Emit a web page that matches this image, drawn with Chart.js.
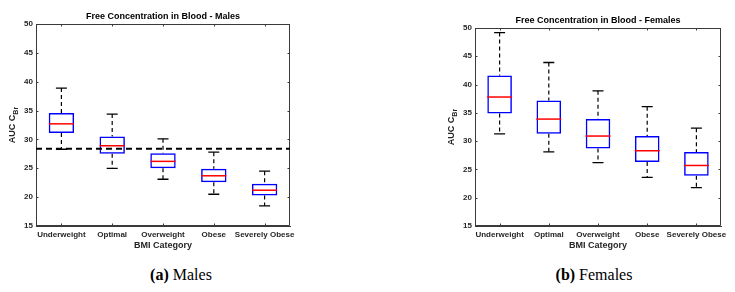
<!DOCTYPE html>
<html>
<head>
<meta charset="utf-8">
<script src="https://cdn.jsdelivr.net/npm/chart.js@4.4.1/dist/chart.umd.min.js"></script>
<style>
  body { margin: 0; background: #fff; width: 735px; height: 292px; position: relative; overflow: hidden; }
  .pane { position: absolute; top: 0; height: 260px; }
  .cap { position: absolute; top: 266px; font-family: "Liberation Serif", "Times New Roman", serif; font-size: 16px; color: #000; text-align: center; width: 200px; }
</style>
</head>
<body>
<div class="pane" style="left:0;width:367px"><canvas id="chartMales"></canvas></div>
<div class="pane" style="left:367px;width:368px"><canvas id="chartFemales"></canvas></div>
<div class="cap" style="left:81px"><b>(a)</b> Males</div>
<div class="cap" style="left:494px"><b>(b)</b> Females</div>
<script>
// BMI kategorileri
var kategoriler = ["Underweight", "Optimal", "Overweight", "Obese", "Severely Obese"];
var yTikler = [15, 20, 25, 30, 35, 40, 45, 50];

// Erkekler: min, q1, medyan, q3, max
var erkekMin = [28.3, 25.0, 23.1, 20.5, 18.5];
var erkekQ1 = [31.1, 27.5, 25.0, 22.6, 20.3];
var erkekMedyan = [32.7, 28.9, 26.2, 23.7, 21.2];
var erkekQ3 = [34.6, 30.5, 27.6, 24.9, 22.3];
var erkekMax = [38.9, 34.4, 30.1, 27.8, 24.5];
var erkekReferans = 28.4;

// Kadınlar: min, q1, medyan, q3, max
var kadinMin = [31.3, 28.1, 26.2, 23.6, 21.8];
var kadinQ1 = [34.9, 31.3, 28.7, 26.3, 23.9];
var kadinMedyan = [37.8, 33.9, 30.9, 28.3, 25.7];
var kadinQ3 = [41.6, 37.2, 33.9, 30.9, 28.1];
var kadinMax = [49.2, 43.9, 38.9, 36.1, 32.3];

var eksenRengi = "#3a3a3a";
var yaziFontu = "'Liberation Sans', Arial, sans-serif";

/* ÇERÇEVE, TİKLER, REFERANS ÇİZGİSİ VE Y ETİKETİ */
var cercevePlugin = {
  id: "cerceve",
  afterDatasetsDraw: function (chart) {
    var ctx = chart.ctx;
    var a = chart.chartArea;
    var x = chart.scales.x;
    var y = chart.scales.y;
    var tl = 2.5;
    ctx.save();
    ctx.strokeStyle = eksenRengi;
    ctx.lineWidth = 1;
    ctx.beginPath();
    ctx.rect(a.left + 0.5, a.top + 0.5, a.right - a.left - 1, a.bottom - a.top - 1);
    for (var i = 0; i < kategoriler.length; i++) {
      var px = Math.round(x.getPixelForValue(i)) + 0.5;
      ctx.moveTo(px, a.bottom); ctx.lineTo(px, a.bottom - tl);
      ctx.moveTo(px, a.top); ctx.lineTo(px, a.top + tl);
    }
    for (var j = 0; j < yTikler.length; j++) {
      var py = Math.round(y.getPixelForValue(yTikler[j])) + 0.5;
      ctx.moveTo(a.left, py); ctx.lineTo(a.left + tl, py);
      ctx.moveTo(a.right, py); ctx.lineTo(a.right - tl, py);
    }
    ctx.stroke();

    var ref = chart.options.plugins.cerceve.referans;
    if (ref !== null && ref !== undefined) {
      var ry = y.getPixelForValue(ref);
      ctx.strokeStyle = "#000";
      ctx.lineWidth = 2;
      ctx.setLineDash([6, 4]);
      ctx.beginPath();
      ctx.moveTo(a.left, ry);
      ctx.lineTo(a.right, ry);
      ctx.stroke();
      ctx.setLineDash([]);
    }

    // AUC C_Br
    ctx.translate(a.left - 23, (a.top + a.bottom) / 2);
    ctx.rotate(-Math.PI / 2);
    ctx.fillStyle = "#262626";
    ctx.font = "bold 9px " + yaziFontu;
    var ana = "AUC C";
    var alt = "Br";
    ctx.textBaseline = "middle";
    var w1 = ctx.measureText(ana).width;
    ctx.font = "bold 7px " + yaziFontu;
    var w2 = ctx.measureText(alt).width;
    var bas = -(w1 + w2) / 2;
    ctx.font = "bold 9px " + yaziFontu;
    ctx.fillText(ana, bas, 0);
    ctx.font = "bold 7px " + yaziFontu;
    ctx.fillText(alt, bas + w1, 3);
    ctx.restore();
  }
};

function biyikVerisi(alt, ust) {
  var veri = [];
  for (var i = 0; i < kategoriler.length; i++) {
    veri.push({x: kategoriler[i], y: ust[i]});
    veri.push({x: kategoriler[i], y: alt[i]});
    veri.push({x: kategoriler[i], y: null});
  }
  return veri;
}

function grafikCiz(id, baslik, mn, q1, med, q3, mx, referans, solBosluk, sagBosluk, ustBosluk) {
  var kutular = [];
  for (var i = 0; i < kategoriler.length; i++) kutular.push([q1[i], q3[i]]);

  new Chart(document.getElementById(id), {
    type: "bar",
    data: {
      labels: kategoriler,
      datasets: [{
        type: "bar",
        data: kutular,
        borderColor: "#0000ff",
        backgroundColor: "rgba(0,0,0,0)",
        borderWidth: 1.5,
        borderSkipped: false,
        barPercentage: 0.5,
        categoryPercentage: 1.0,
        order: 2
      }, {
        type: "line",
        data: med,
        showLine: false,
        pointStyle: "line",
        pointRadius: 12.5,
        pointBorderWidth: 1.5,
        pointBorderColor: "#ff0000",
        order: 1
      }, {
        type: "line",
        data: biyikVerisi(q3, mx),
        borderColor: "#000",
        borderWidth: 1.2,
        borderDash: [4, 3],
        spanGaps: false,
        pointRadius: 0,
        order: 3
      }, {
        type: "line",
        data: biyikVerisi(mn, q1),
        borderColor: "#000",
        borderWidth: 1.2,
        borderDash: [4, 3],
        spanGaps: false,
        pointRadius: 0,
        order: 3
      }, {
        type: "line",
        data: mx,
        showLine: false,
        pointStyle: "line",
        pointRadius: 5.5,
        pointBorderWidth: 1.3,
        pointBorderColor: "#000",
        order: 1
      }, {
        type: "line",
        data: mn,
        showLine: false,
        pointStyle: "line",
        pointRadius: 5.5,
        pointBorderWidth: 1.3,
        pointBorderColor: "#000",
        order: 1
      }]
    },
    options: {
      responsive: true,
      maintainAspectRatio: false,
      animation: false,
      events: [],
      layout: { padding: { left: solBosluk, right: sagBosluk, top: 0, bottom: 0 } },
      scales: {
        x: {
          grid: { display: false, drawTicks: false },
          border: { display: true, color: eksenRengi },
          ticks: { padding: 4, color: "#262626", font: { family: yaziFontu, size: 8, weight: "bold" }, maxRotation: 0, autoSkip: false },
          title: { display: true, text: "BMI Category", color: "#262626", font: { family: yaziFontu, size: 9, weight: "bold" }, padding: { top: 0, bottom: 8.6 } },
          afterFit: function (s) { s.height = 34; }
        },
        y: {
          min: 15,
          max: 50,
          grid: { display: false, drawTicks: false },
          border: { display: true, color: eksenRengi },
          afterBuildTicks: function (s) { s.ticks = yTikler.map(function (v) { return {value: v}; }); },
          ticks: { padding: 3, color: "#262626", font: { family: yaziFontu, size: 8, weight: "bold" } },
          afterFit: function (s) { s.width = 36; }
        }
      },
      plugins: {
        legend: { display: false },
        tooltip: { enabled: false },
        title: {
          display: true,
          text: baslik,
          fullSize: false,
          color: "#000",
          font: { family: yaziFontu, size: 9, weight: "bold", lineHeight: 1 },
          padding: { top: ustBosluk - 11.5, bottom: 2.5 }
        },
        cerceve: { referans: referans }
      }
    },
    plugins: [cercevePlugin]
  });
}

grafikCiz("chartMales", "Free Concentration in Blood - Males", erkekMin, erkekQ1, erkekMedyan, erkekQ3, erkekMax, erkekReferans, 0, 77, 24);
grafikCiz("chartFemales", "Free Concentration in Blood - Females", kadinMin, kadinQ1, kadinMedyan, kadinQ3, kadinMax, null, 72, 9, 28);
</script>
</body>
</html>
